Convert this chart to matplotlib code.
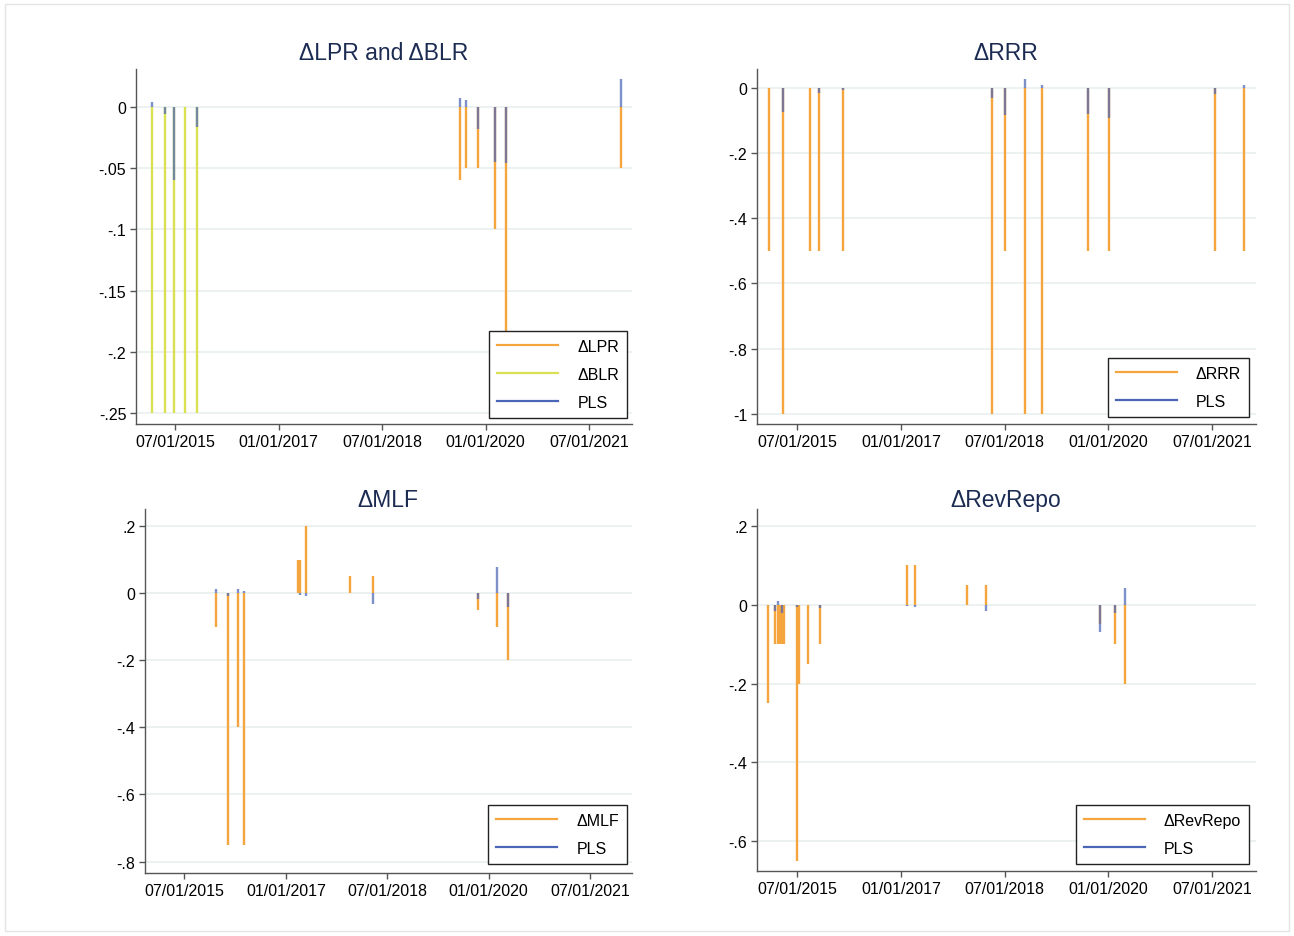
import matplotlib
matplotlib.use("Agg")
import matplotlib.pyplot as plt
import matplotlib.dates as mdates
import matplotlib.ticker as mticker
from matplotlib.lines import Line2D
from matplotlib.patches import Rectangle
import numpy as np

plt.rcParams['font.family'] = ['Liberation Sans', 'DejaVu Sans']

# ---- data -------------------------------------------------------------
# Panel 1: loan prime rate / benchmark lending rate changes
blr_dates = ["2015-03-01", "2015-05-11", "2015-06-28", "2015-08-26", "2015-10-24"]
blr_vals = [-0.25, -0.25, -0.25, -0.25, -0.25]
pls_blr = [0.004, -0.006, -0.060, 0.0, -0.016]

lpr_dates = ["2019-08-20", "2019-09-20", "2019-11-20", "2020-02-20", "2020-04-20", "2021-12-20"]
lpr_vals = [-0.06, -0.05, -0.05, -0.10, -0.20, -0.05]
pls_lpr = [0.0076, 0.006, -0.018, -0.045, -0.046, 0.0225]

# Panel 2: reserve requirement ratio changes
rrr_dates = ["2015-02-05", "2015-04-20", "2015-09-06", "2015-10-24", "2016-03-01",
             "2018-04-25", "2018-07-05", "2018-10-15", "2019-01-15", "2019-09-16",
             "2020-01-06", "2021-07-15", "2021-12-15"]
rrr_vals = [-0.5, -1.0, -0.5, -0.5, -0.5, -1.0, -0.5, -1.0, -1.0, -0.5, -0.5, -0.5, -0.5]
pls_rrr = [0.0, -0.073, 0.0, -0.016, -0.005, -0.032, -0.083, 0.028, 0.010,
           -0.080, -0.093, -0.018, 0.009]

# Panel 3: medium-term lending facility rate changes
mlf_dates = ["2015-12-21", "2016-02-20", "2016-04-14", "2016-05-18", "2017-03-04",
             "2017-03-15", "2017-04-19", "2017-12-11", "2018-04-14", "2019-11-04",
             "2020-02-17", "2020-04-14"]
mlf_vals = [-0.10, -0.75, -0.40, -0.75, 0.10, 0.10, 0.20, 0.05, 0.05, -0.05, -0.10, -0.20]
pls_mlf = [0.012, -0.008, 0.012, 0.008, 0.0, -0.005, -0.009, 0.0, -0.033, -0.016, 0.078, -0.042]

# Panel 4: reverse repo rate changes
rev_dates = ["2015-01-27", "2015-03-09", "2015-03-24", "2015-04-03", "2015-04-14",
             "2015-04-25", "2015-07-01", "2015-07-12", "2015-08-30", "2015-11-01",
             "2017-02-03", "2017-03-16", "2017-12-17", "2018-03-25", "2019-11-18",
             "2020-02-03", "2020-03-30"]
rev_vals = [-0.25, -0.10, -0.10, -0.10, -0.10, -0.10, -0.65, -0.20, -0.15, -0.10,
            0.10, 0.10, 0.05, 0.05, -0.05, -0.10, -0.20]
pls_rev = [0.0, -0.017, 0.010, 0.0, -0.022, 0.0, -0.005, 0.0, 0.0, -0.008,
           -0.002, -0.005, 0.0, -0.016, -0.069, -0.022, 0.043]

tick_dates = ["2015-07-01", "2017-01-01", "2018-07-01", "2020-01-01", "2021-07-01"]

# ---- styling ------------------------------------------------------------
ORANGE = "#f4a53e"
YELLOW = "#d9e153"
BLUE = "#4c66b6"
AXCOL = "#555555"
TITLECOL = "#1c2b52"
GRIDCOL = "#e9f0f0"
FS = 11.5

W, H = 1294, 937
fig = plt.figure(figsize=(W / 100, H / 100), dpi=100)


def box(l, t, r, b):
    return [l / W, 1 - b / H, (r - l) / W, (b - t) / H]


def dn(dates):
    return mdates.date2num(np.array(dates, dtype="datetime64[D]"))


def stata_fmt(v, pos):
    v = round(v, 4)
    if v == 0:
        return "0"
    s = f"{v:g}"
    return s.replace("0.", ".")


def setup(ax, xlim, ylim, yticks):
    ax.set_xlim(dn(xlim))
    ax.set_ylim(*ylim)
    ax.set_yticks(yticks)
    ax.yaxis.set_major_formatter(mticker.FuncFormatter(stata_fmt))
    ax.set_xticks(dn(tick_dates))
    ax.xaxis.set_major_formatter(mdates.DateFormatter("%m/%d/%Y"))
    for s in ("top", "right"):
        ax.spines[s].set_visible(False)
    for s in ("left", "bottom"):
        ax.spines[s].set_color(AXCOL)
        ax.spines[s].set_linewidth(1.0)
    ax.tick_params(axis="both", direction="out", length=4, width=1, color=AXCOL,
                   labelsize=FS, labelcolor="black", pad=3)
    ax.grid(axis="y", color=GRIDCOL, linewidth=1.2, zorder=0)
    ax.set_axisbelow(True)


def spikes(ax, dates, vals, color, alpha=1.0, z=2):
    ax.vlines(dn(dates), 0, vals, colors=color, linewidth=1.7, alpha=alpha, zorder=z)


def legend(ax, entries, right, bottom):
    handles = [Line2D([], [], color=c, linewidth=1.6) for c, _ in entries]
    labels = [l for _, l in entries]
    leg = ax.legend(handles, labels, loc="lower right",
                    bbox_to_anchor=(right / W, 1 - bottom / H),
                    bbox_transform=fig.transFigure, borderaxespad=0,
                    fontsize=FS, frameon=True, fancybox=False, framealpha=1,
                    edgecolor="#222222", handlelength=3.8, handletextpad=1.2,
                    labelspacing=0.82, borderpad=0.5)
    leg.get_frame().set_linewidth(1.0)
    leg.set_zorder(10)


TITLE_FS = 16.5

# Panel 1
ax1 = fig.add_axes(box(136, 70, 632, 425))
setup(ax1, ["2014-12-07", "2022-02-14"], (-0.259, 0.031),
      [0, -0.05, -0.1, -0.15, -0.2, -0.25])
spikes(ax1, lpr_dates, lpr_vals, ORANGE)
spikes(ax1, blr_dates, blr_vals, YELLOW)
spikes(ax1, blr_dates, pls_blr, BLUE, alpha=0.72, z=3)
spikes(ax1, lpr_dates, pls_lpr, BLUE, alpha=0.72, z=3)
legend(ax1, [(ORANGE, "ΔLPR"), (YELLOW, "ΔBLR"), (BLUE, "PLS")], 627, 419)
fig.text(384 / W, 1 - 54 / H, "ΔLPR and ΔBLR", ha="center", va="center",
         fontsize=TITLE_FS, color=TITLECOL)

# Panel 2
ax2 = fig.add_axes(box(757, 70, 1256, 425))
setup(ax2, ["2014-12-02", "2022-02-18"], (-1.031, 0.058),
      [0, -0.2, -0.4, -0.6, -0.8, -1.0])
spikes(ax2, rrr_dates, rrr_vals, ORANGE)
spikes(ax2, rrr_dates, pls_rrr, BLUE, alpha=0.72, z=3)
legend(ax2, [(ORANGE, "ΔRRR"), (BLUE, "PLS")], 1249, 418)
fig.text(1006 / W, 1 - 54 / H, "ΔRRR", ha="center", va="center",
         fontsize=TITLE_FS, color=TITLECOL)

# Panel 3
ax3 = fig.add_axes(box(145, 510, 632, 874))
setup(ax3, ["2014-12-01", "2022-02-13"], (-0.834, 0.251),
      [0.2, 0, -0.2, -0.4, -0.6, -0.8])
spikes(ax3, mlf_dates, mlf_vals, ORANGE)
spikes(ax3, mlf_dates, pls_mlf, BLUE, alpha=0.72, z=3)
legend(ax3, [(ORANGE, "ΔMLF"), (BLUE, "PLS")], 627, 865)
fig.text(388 / W, 1 - 501 / H, "ΔMLF", ha="center", va="center",
         fontsize=TITLE_FS, color=TITLECOL)

# Panel 4
ax4 = fig.add_axes(box(757, 510, 1256, 872))
setup(ax4, ["2014-12-02", "2022-02-18"], (-0.676, 0.243),
      [0.2, 0, -0.2, -0.4, -0.6])
spikes(ax4, rev_dates, rev_vals, ORANGE)
spikes(ax4, rev_dates, pls_rev, BLUE, alpha=0.72, z=3)
legend(ax4, [(ORANGE, "ΔRevRepo"), (BLUE, "PLS")], 1249, 865)
fig.text(1006 / W, 1 - 501 / H, "ΔRevRepo", ha="center", va="center",
         fontsize=TITLE_FS, color=TITLECOL)

# faint outer frame of the graph region
fig.patches.append(Rectangle((5 / W, 5 / H), (W - 10) / W, (H - 10) / H,
                             transform=fig.transFigure, fill=False,
                             edgecolor="#e4e4e4", linewidth=1.0))

fig.savefig("out.png", dpi=100, facecolor="white")
